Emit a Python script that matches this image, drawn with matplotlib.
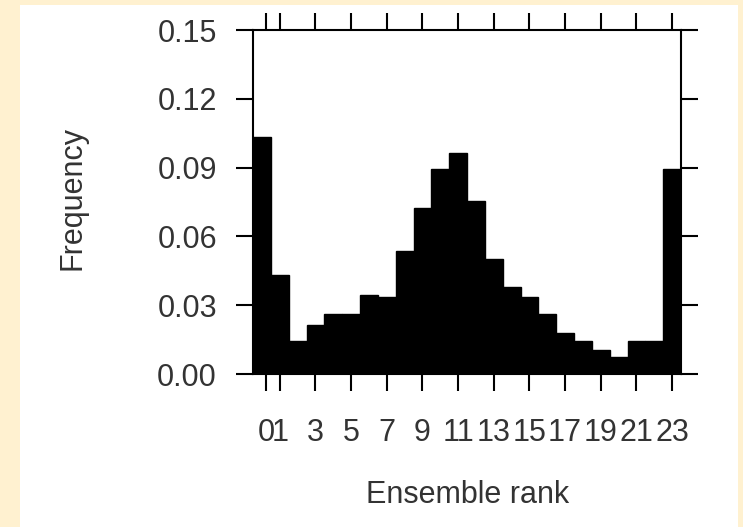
import matplotlib.pyplot as plt

# Rank histogram values (ranks 0..23)
ranks = list(range(24))
freq = [0.1032, 0.0432, 0.0144, 0.0214, 0.0262, 0.0262, 0.0344, 0.0334,
        0.0538, 0.0722, 0.0892, 0.0962, 0.0756, 0.0500, 0.0381, 0.0334,
        0.0262, 0.0177, 0.0144, 0.0105, 0.0073, 0.0144, 0.0144, 0.0892]

xtick_pos = [0.22, 1, 3, 5, 7, 9, 11, 13, 15, 17, 19, 21, 23]
xtick_labels = ["0", "1", "3", "5", "7", "9", "11", "13", "15", "17", "19", "21", "23"]
ytick_vals = [0.00, 0.03, 0.06, 0.09, 0.12, 0.15]

plt.rcParams['font.family'] = ['Liberation Sans', 'DejaVu Sans']
text_color = "#333333"
fs = 22

fig = plt.figure(figsize=(7.43, 5.27), dpi=100, facecolor="#fff1d0")
# white panel inside the cream border
bg = fig.add_axes([20 / 743, 0, 718 / 743, 1 - 5 / 527], zorder=-1)
bg.set_facecolor("white")
bg.set_xticks([])
bg.set_yticks([])
for s in bg.spines.values():
    s.set_visible(False)

ax = fig.add_axes([253 / 743, 1 - 374 / 527, 428 / 743, 344 / 527], zorder=1)
ax.set_facecolor("white")
ax.bar(ranks, freq, width=1.0, color="black", edgecolor="black", linewidth=1.0)

ax.set_xlim(-0.5, 23.5)
ax.set_ylim(0, 0.15)
ax.set_xticks(xtick_pos)
ax.set_xticklabels(xtick_labels)
ax.set_yticks(ytick_vals)
ax.set_yticklabels([f"{v:.2f}" for v in ytick_vals])

for s in ax.spines.values():
    s.set_linewidth(1.5)
ax.tick_params(direction="out", length=12, width=1.5, top=True, right=True,
               labelsize=fs, labelcolor=text_color)
ax.tick_params(axis="y", pad=14)
ax.tick_params(axis="x", pad=20)

fig.text(72 / 743, 1 - 198 / 527, "Frequency", rotation=90, ha="center",
         va="center", fontsize=fs, color=text_color)
fig.text(468 / 743, 1 - 495 / 527, "Ensemble rank", ha="center", va="center",
         fontsize=fs, color=text_color)

fig.savefig("out.png", dpi=100, facecolor=fig.get_facecolor())
